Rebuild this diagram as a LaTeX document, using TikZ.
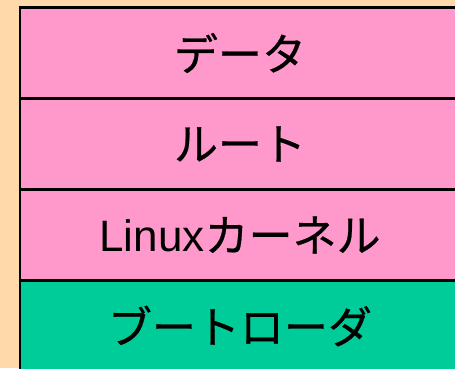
\documentclass[tikz,border=0pt]{standalone}
\usepackage{fontspec}
\setmainfont{Liberation Sans}
\newfontfamily\cjk[FakeBold=0.6]{Noto Sans CJK JP}
\definecolor{peach}{HTML}{FFD9AA}
\definecolor{pinkbox}{HTML}{FF99CC}
\definecolor{greenbox}{HTML}{00CC99}
\begin{document}
\begin{tikzpicture}[x=1pt,y=-1pt]
\tikzset{
  layer/.style={draw=black, line width=2.6pt, minimum width=440pt, minimum height=91pt,
    inner sep=0pt, outer sep=0pt, font=\fontsize{44}{52}\selectfont, text=black},
}
\fill[peach] (0,0) rectangle (455,368);
\useasboundingbox (0,0) rectangle (455,368);
\begin{scope}
\clip (0,0) rectangle (455,368);
\node[layer, fill=greenbox] (boot) at (240,326) {{\cjk ブートローダ}};
\node[layer, fill=pinkbox] (kernel) at (240,235) {Linux{\cjk カーネル}};
\node[layer, fill=pinkbox] (root) at (240,144) {{\cjk ルート}};
\node[layer, fill=pinkbox] (data) at (240,53) {{\cjk データ}};
\end{scope}
\end{tikzpicture}
\end{document}
